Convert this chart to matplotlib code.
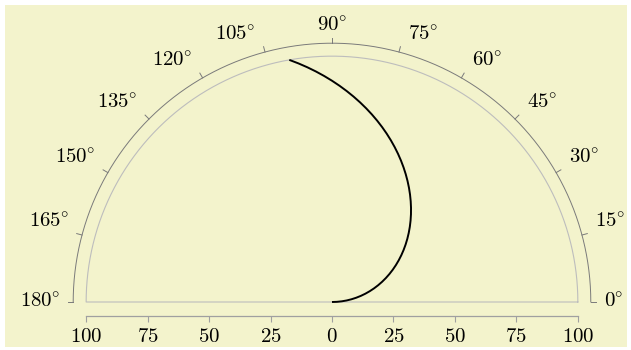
import numpy as np
import matplotlib
matplotlib.use("Agg")
import matplotlib.pyplot as plt
from matplotlib.patches import Rectangle

plt.rcParams['mathtext.fontset'] = 'cm'
plt.rcParams['font.family'] = ['DejaVu Serif']

# ---- data ----
theta_deg = [0, 2, 4, 6, 8, 10, 12, 14, 16, 18, 20, 22, 24, 26, 28, 30, 32, 34, 36, 38,
             40, 42, 44, 46, 48, 50, 52, 54, 56, 58, 60, 62, 64, 66, 68, 70, 72, 74, 76, 78,
             80, 82, 84, 86, 88, 90, 92, 94, 96, 98, 100]
radius = [0, 2, 4, 6, 8, 10, 12, 14, 16, 18, 20, 22, 24, 26, 28, 30, 32, 34, 36, 38,
          40, 42, 44, 46, 48, 50, 52, 54, 56, 58, 60, 62, 64, 66, 68, 70, 72, 74, 76, 78,
          80, 82, 84, 86, 88, 90, 92, 94, 96, 98, 100]

angle_ticks = [0, 15, 30, 45, 60, 75, 90, 105, 120, 135, 150, 165, 180]
angle_labels = [r'$%d\!^\circ$' % a for a in angle_ticks]
radial_positions = [-100, -75, -50, -25, 0, 25, 50, 75, 100]
radial_labels = [r'$100$', r'$75$', r'$50$', r'$25$', r'$0$', r'$25$', r'$50$', r'$75$', r'$100$']
r_max = 100

# ---- layout ----
W, H, DPI = 631, 350, 100
fig = plt.figure(figsize=(W / DPI, H / DPI), dpi=DPI)
fig.patch.set_facecolor('white')
bg = Rectangle((5 / W, 3 / H), 622 / W, 342 / H, transform=fig.transFigure,
               facecolor='#f3f3cc', edgecolor='none', zorder=-10)
fig.patches.append(bg)

s = 2.4585          # pixels per data unit
cx, cy = 332, 48    # centre in pixels (from left, from bottom)
ax = fig.add_axes([0, 0, 1, 1])
ax.set_xlim(-cx / s, (W - cx) / s)
ax.set_ylim(-cy / s, (H - cy) / s)
ax.patch.set_visible(False)
for sp in ['top', 'left', 'right']:
    ax.spines[sp].set_visible(False)
ax.set_yticks([])

FS = 15

# inner semicircle (r = r_max) with diameter
phi = np.radians(np.linspace(0, 180, 721))
ax.plot(np.r_[r_max * np.cos(phi), -r_max, r_max], np.r_[r_max * np.sin(phi), 0, 0],
        color='#bdbdbd', lw=0.8, zorder=1)

# outer angular axis
R_out = 258.8 / s
tick_len = 5.5 / s
ax.plot(R_out * np.cos(phi), R_out * np.sin(phi), color='#7a7a7a', lw=0.7, zorder=2)
sep = 8 * 72 / DPI
sepv = 6.5 * 72 / DPI
for a, lab in zip(angle_ticks, angle_labels):
    t = np.radians(a)
    x0, y0 = R_out * np.cos(t), R_out * np.sin(t)
    x1, y1 = (R_out + tick_len) * np.cos(t), (R_out + tick_len) * np.sin(t)
    ax.plot([x0, x1], [y0, y1], color='#7a7a7a', lw=0.7, zorder=2)
    if a == 0:
        ha, va, off = 'left', 'center', (sep, 0)
    elif a < 90:
        ha, va, off = 'left', 'baseline', (sep, sepv)
    elif a == 90:
        ha, va, off = 'center', 'baseline', (0, sepv)
    elif a < 180:
        ha, va, off = 'right', 'baseline', (-sep, sepv)
    else:
        ha, va, off = 'right', 'center', (-sep, 0)
    ax.annotate(lab, xy=(x1, y1), xytext=off, textcoords='offset points',
                ha=ha, va=va, fontsize=FS, color='black')

# radial axis below
ax.spines['bottom'].set_position(('data', -13.5 / s))
ax.spines['bottom'].set_bounds(-r_max, r_max)
ax.spines['bottom'].set_color('#a0a0a0')
ax.spines['bottom'].set_linewidth(0.9)
ax.set_xticks(radial_positions, radial_labels)
ax.tick_params(axis='x', direction='out', length=5.7 * 72 / DPI, width=0.8,
               color='#a0a0a0', labelsize=FS, labelcolor='black', pad=4.5)

# the curve
th = np.radians(theta_deg)
rr = np.asarray(radius, dtype=float)
ax.plot(rr * np.cos(th), rr * np.sin(th), color='black', lw=1.4, zorder=3,
        solid_capstyle='butt', solid_joinstyle='round')

fig.savefig('out.png', dpi=DPI, facecolor=fig.get_facecolor())
